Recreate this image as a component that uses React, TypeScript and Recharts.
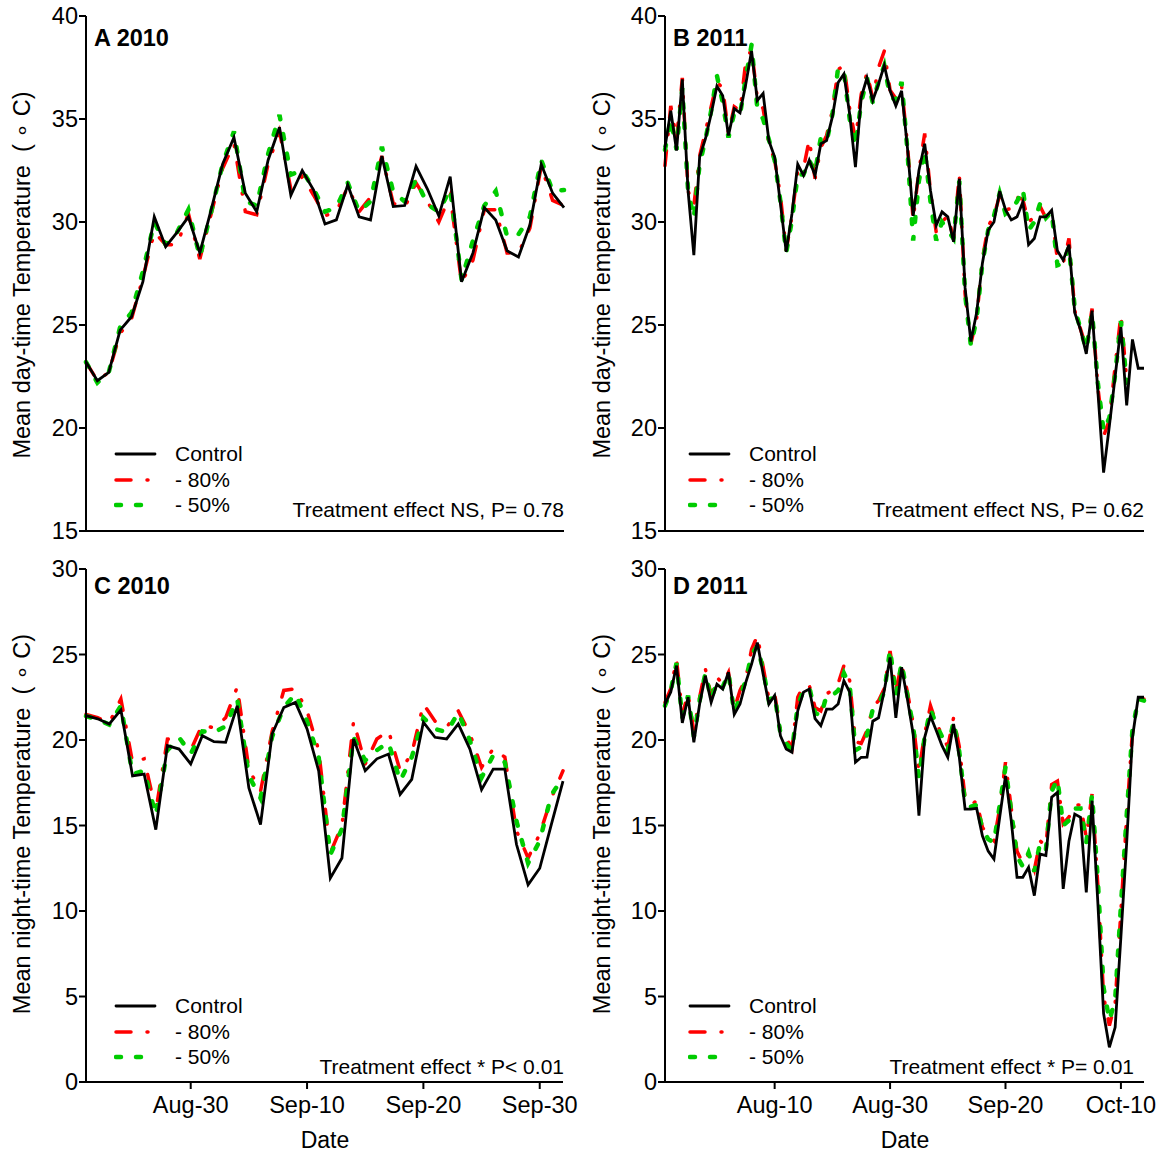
import React from "react";
import { LineChart, Line, XAxis, YAxis } from "recharts";

const FONT = '"Liberation Sans", Arial, Helvetica, sans-serif';

// A: mean day-time temperature 2010 (one value per observation)
const dayControl2010 = [23.2, 22.3, 22.7, 24.75, 25.4, 27.1, 30.25, 28.8, 29.5, 30.25, 28.5, 30.6, 32.8, 34.1, 31.4, 30.5, 33.0, 34.6, 31.3, 32.5, 31.55, 29.9, 30.1, 31.8, 30.25, 30.1, 33.2, 30.75, 30.8, 32.7, 31.6, 30.3, 32.2, 27.1, 28.5, 30.7, 30.1, 28.6, 28.3, 29.85, 32.8, 31.4, 30.7];
const day80_2010 = [23.2, 22.3, 22.7, 24.6, 25.3, 27.3, 29.5, 28.9, 28.9, 30.4, 28.2, 30.4, 32.6, 33.8, 30.5, 30.35, 32.8, 34.4, 31.6, 32.2, 31.3, 30.3, 30.5, 31.7, 30.5, 31.2, 33.2, 30.9, 30.7, 31.9, 31.0, 30.0, 31.3, 27.05, 28.15, 30.6, 30.6, 28.5, 28.5, 29.7, 32.7, 31.05, 30.8];
const day50_2010 = [23.2, 22.2, 22.7, 24.9, 25.6, 27.6, 30.0, 28.9, 29.5, 30.6, 28.3, 30.5, 32.8, 34.4, 31.0, 30.8, 33.3, 35.2, 32.3, 32.5, 31.6, 30.5, 30.7, 31.9, 30.5, 31.0, 33.65, 31.45, 31.0, 32.05, 30.85, 30.5, 31.6, 27.2, 29.1, 30.8, 31.5, 29.3, 29.4, 30.25, 33.0, 31.5, 31.55];

// B: mean day-time temperature 2011
const dayControl2011 = [33.63, 35.4, 33.47, 36.93, 31.5, 28.39, 33.15, 34.03, 35.24, 36.6, 36.13, 34.2, 35.5, 35.3, 36.7, 38.3, 35.9, 36.24, 33.95, 33.15, 30.9, 28.55, 30.4, 32.8, 32.26, 33.0, 32.26, 33.8, 33.95, 35.1, 36.77, 37.18, 35.24, 32.66, 36.05, 37.0, 35.9, 36.7, 37.6, 36.37, 35.64, 36.37, 33.63, 30.3, 32.5, 33.8, 31.53, 29.84, 30.49, 30.25, 29.04, 32.1, 26.8, 24.2, 25.6, 28.0, 29.6, 30.0, 31.5, 30.6, 30.1, 30.25, 30.97, 28.9, 29.2, 30.25, 30.25, 30.57, 28.6, 28.15, 28.9, 25.6, 24.77, 23.6, 25.7, 21.8, 17.83, 20.1, 22.5, 24.9, 21.1, 24.3, 22.9, 22.9];
const day80_2011 = [32.74, 35.64, 34.0, 37.0, 31.5, 30.8, 33.2, 34.4, 35.6, 36.8, 36.5, 34.3, 35.6, 35.4, 37.8, 38.4, 36.0, 35.5, 33.8, 33.0, 31.3, 28.6, 30.3, 32.5, 32.6, 34.0, 32.1, 33.6, 34.2, 35.4, 37.4, 37.6, 35.5, 34.0, 36.2, 37.25, 36.0, 37.5, 38.3, 36.4, 36.0, 36.6, 33.8, 30.1, 32.5, 34.3, 31.5, 29.5, 30.0, 30.3, 29.2, 32.3, 26.5, 24.1, 25.3, 28.2, 29.8, 30.3, 31.3, 30.6, 30.65, 31.2, 31.1, 30.0, 30.25, 30.75, 30.2, 30.5, 28.15, 28.0, 29.2, 25.7, 24.8, 23.9, 25.8, 22.0, 19.6, 20.4, 23.0, 25.5, 22.35];
const day50_2011 = [33.5, 35.0, 33.5, 36.5, 31.5, 30.2, 32.8, 34.0, 35.4, 37.1, 35.8, 34.1, 35.3, 35.2, 37.0, 38.6, 35.5, 35.0, 34.0, 33.0, 31.0, 28.5, 30.1, 32.3, 32.3, 33.0, 32.4, 34.1, 33.9, 35.2, 37.5, 37.3, 35.0, 33.7, 35.8, 37.0, 35.8, 36.8, 37.6, 36.1, 35.9, 36.8, 33.5, 29.1, 32.0, 33.5, 31.0, 29.1, 30.0, 29.6, 29.2, 32.0, 26.5, 24.0, 25.3, 28.0, 29.6, 30.3, 31.4, 30.4, 30.6, 31.0, 31.6, 29.6, 30.0, 30.9, 30.2, 30.5, 27.9, 28.0, 28.8, 25.8, 24.8, 23.8, 25.6, 22.2, 19.85, 20.5, 22.6, 25.2, 22.2];

// C: mean night-time temperature 2010
const nightControl2010 = [21.43, 21.24, 20.94, 21.76, 17.9, 18.0, 14.76, 19.67, 19.47, 18.6, 20.25, 19.9, 19.86, 22.0, 17.2, 15.06, 20.35, 21.9, 22.2, 20.65, 18.2, 11.92, 13.1, 20.06, 18.2, 18.9, 19.18, 16.82, 17.7, 21.04, 20.16, 20.06, 20.94, 19.47, 17.1, 18.3, 18.3, 13.9, 11.53, 12.5, 15.06, 17.6];
const night80_2010 = [21.5, 21.3, 21.0, 22.4, 18.7, 18.9, 15.85, 20.05, 20.1, 19.4, 20.9, 20.7, 21.3, 23.1, 18.3, 17.0, 20.5, 22.9, 23.0, 21.7, 19.4, 13.4, 15.0, 21.1, 18.6, 20.06, 20.55, 18.2, 19.2, 22.1, 21.1, 20.75, 21.7, 20.35, 18.4, 19.5, 19.0, 14.7, 13.1, 14.5, 16.6, 18.2];
const night50_2010 = [21.4, 21.2, 20.9, 22.0, 18.0, 18.2, 15.6, 19.4, 20.15, 19.2, 20.5, 20.45, 20.8, 22.4, 17.9, 16.6, 20.2, 21.9, 22.7, 21.1, 19.0, 13.3, 14.8, 20.15, 18.8, 19.4, 19.86, 17.6, 19.0, 21.3, 20.65, 20.45, 21.6, 19.96, 17.8, 19.1, 18.7, 15.25, 12.8, 14.1, 16.8, 17.8];

// D: mean night-time temperature 2011
const nightControl2011 = [22.1, 22.8, 24.35, 21.0, 22.5, 19.86, 22.1, 23.76, 22.2, 23.27, 22.98, 23.96, 21.5, 22.1, 23.37, 24.44, 25.7, 23.86, 22.1, 22.6, 20.25, 19.47, 19.28, 21.7, 22.8, 22.98, 21.25, 20.84, 21.8, 21.8, 22.1, 23.47, 22.8, 18.7, 18.99, 19.0, 21.1, 21.3, 22.9, 24.83, 21.3, 24.25, 22.4, 20.35, 15.58, 20.16, 21.4, 20.55, 19.67, 18.99, 20.94, 18.99, 15.96, 15.96, 16.0, 14.4, 13.5, 13.04, 15.5, 17.9, 15.28, 11.97, 11.97, 12.55, 10.9, 13.33, 13.24, 16.65, 16.94, 11.29, 14.1, 15.67, 15.48, 11.09, 16.45, 10.5, 4.0, 2.03, 3.2, 8.5, 14.0, 20.15, 22.5, 22.5];
const night80_2011 = [22.2, 23.0, 24.7, 21.5, 22.7, 20.5, 22.5, 24.15, 22.6, 23.66, 23.3, 23.96, 21.8, 22.9, 23.6, 25.3, 26.1, 24.3, 22.4, 22.7, 20.6, 20.15, 19.5, 22.5, 23.18, 23.2, 21.9, 21.7, 22.7, 22.9, 23.3, 24.35, 23.47, 19.9, 19.8, 20.55, 21.9, 22.3, 23.0, 25.2, 22.9, 24.45, 22.8, 21.0, 18.2, 20.35, 22.0, 21.0, 20.3, 19.6, 21.3, 19.6, 16.6, 16.2, 16.45, 14.9, 14.4, 14.1, 16.0, 18.7, 16.0, 13.5, 12.8, 13.3, 12.4, 14.1, 13.8, 17.4, 17.6, 15.1, 15.5, 16.2, 16.2, 14.3, 16.84, 11.5, 5.0, 3.3, 4.6, 10.0, 15.5, 20.5, 22.4, 22.4];
const night50_2011 = [22.0, 22.9, 24.5, 21.3, 22.6, 20.2, 22.3, 23.9, 22.4, 23.4, 23.1, 23.9, 21.6, 22.5, 23.5, 25.0, 25.5, 24.1, 22.3, 22.6, 20.4, 19.8, 19.4, 22.0, 22.9, 23.1, 21.6, 21.4, 22.6, 22.6, 22.9, 23.9, 23.2, 19.4, 19.6, 20.3, 21.8, 22.1, 22.8, 25.3, 22.6, 24.5, 22.6, 20.8, 17.8, 20.2, 21.8, 20.9, 20.2, 19.4, 21.1, 19.3, 16.3, 16.1, 16.2, 14.8, 14.2, 14.0, 16.2, 18.4, 15.8, 13.2, 12.6, 13.4, 12.3, 14.0, 13.6, 17.0, 17.7, 15.0, 15.3, 16.0, 16.0, 14.0, 16.8, 11.8, 5.5, 3.6, 4.8, 10.3, 15.6, 20.6, 22.4, 22.3];

// x ticks sit on observation numbers
const ticks2010 = [9, 19, 29, 39];
const tickLabels2010 = ["Aug-30", "Sep-10", "Sep-20", "Sep-30"];
const ticks2011 = [19, 39, 59, 79];
const tickLabels2011 = ["Aug-10", "Aug-30", "Sep-20", "Oct-10"];

const dayTicks = [15, 20, 25, 30, 35, 40];
const nightTicks = [0, 5, 10, 15, 20, 25, 30];

const RED = "#FF0000";
const GREEN = "#00CC00";
const RED_DASH = "15 16 1 16";
const GREEN_DASH = "5 15";

function toRows(control: number[], m80: number[], m50: number[]) {
  return control.map((v, i) => ({
    i,
    control: v,
    m80: i < m80.length ? m80[i] : null,
    m50: i < m50.length ? m50[i] : null,
  }));
}

type PanelProps = {
  left: number;
  top: number;
  height: number;
  margin: { top: number; right: number; left: number; bottom: number };
  xAxisHeight: number;
  rows: any[];
  yDomain: [number, number];
  yTicks: number[];
  xTicks: number[];
  xLabels: string[];
  showXLabels: boolean;
};

function Panel(p: PanelProps) {
  const tickStyle = { fill: "#000", fontSize: 23.5, fontFamily: FONT };
  return (
    <div style={{ position: "absolute", left: p.left, top: p.top }}>
      <LineChart width={580} height={p.height} data={p.rows} margin={p.margin}>
        <XAxis
          type="number"
          dataKey="i"
          domain={[0, p.rows.length - 1]}
          ticks={p.xTicks}
          interval={0}
          tickFormatter={(v: number) => p.xLabels[p.xTicks.indexOf(v)] ?? ""}
          tick={p.showXLabels ? tickStyle : false}
          tickLine={{ stroke: "#000", strokeWidth: 2 }}
          axisLine={{ stroke: "#000", strokeWidth: 2 }}
          tickSize={7}
          tickMargin={7}
          height={p.xAxisHeight}
        />
        <YAxis
          type="number"
          domain={p.yDomain}
          ticks={p.yTicks}
          interval={0}
          tick={tickStyle}
          tickLine={{ stroke: "#000", strokeWidth: 2 }}
          axisLine={{ stroke: "#000", strokeWidth: 2 }}
          tickSize={7}
          tickMargin={1}
          width={40}
        />
        <Line type="linear" dataKey="m80" stroke={RED} strokeWidth={3.5} strokeDasharray={RED_DASH} strokeLinecap="round" dot={false} isAnimationActive={false} />
        <Line type="linear" dataKey="m50" stroke={GREEN} strokeWidth={4.5} strokeDasharray={GREEN_DASH} strokeLinecap="round" dot={false} isAnimationActive={false} />
        <Line type="linear" dataKey="control" stroke="#000" strokeWidth={2.8} dot={false} isAnimationActive={false} />
      </LineChart>
    </div>
  );
}

function KeyBox({ x, y }: { x: number; y: number }) {
  const items = [
    { label: "Control", stroke: "#000", w: 2.8, dash: undefined as string | undefined },
    { label: "- 80%", stroke: RED, w: 3.5, dash: RED_DASH },
    { label: "- 50%", stroke: GREEN, w: 4.5, dash: GREEN_DASH },
  ];
  return (
    <div style={{ position: "absolute", left: x, top: y - 13 }}>
      {items.map((it, k) => (
        <div key={k} style={{ position: "absolute", top: k * 25.5, left: 0, height: 26, width: 160 }}>
          <svg width={45} height={26} style={{ position: "absolute", left: 0, top: 0 }}>
            <line x1={2} y1={13} x2={41} y2={13} stroke={it.stroke} strokeWidth={it.w} strokeDasharray={it.dash} strokeLinecap="round" />
          </svg>
          <span style={{ position: "absolute", left: 61, top: 0, fontSize: 21, lineHeight: "26px", fontFamily: FONT, whiteSpace: "pre" }}>
            {it.label}
          </span>
        </div>
      ))}
    </div>
  );
}

function Note({ right, y, text }: { right: number; y: number; text: string }) {
  return (
    <div style={{ position: "absolute", right: 1160 - right, top: y - 13, fontSize: 21, lineHeight: "26px", fontFamily: FONT, whiteSpace: "pre" }}>
      {text}
    </div>
  );
}

function Tag({ x, y, text }: { x: number; y: number; text: string }) {
  return (
    <div style={{ position: "absolute", left: x, top: y - 14, fontSize: 23.5, lineHeight: "28px", fontWeight: "bold", fontFamily: FONT }}>
      {text}
    </div>
  );
}

function YTitle({ cx, cy, text }: { cx: number; cy: number; text: string }) {
  return (
    <div
      style={{
        position: "absolute",
        left: cx - 300,
        top: cy - 15,
        width: 600,
        height: 30,
        textAlign: "center",
        fontSize: 23.5,
        lineHeight: "30px",
        fontFamily: FONT,
        whiteSpace: "pre",
        transform: "rotate(-90deg)",
      }}
    >
      {text}
    </div>
  );
}

function XTitle({ cx, cy }: { cx: number; cy: number }) {
  return (
    <div style={{ position: "absolute", left: cx - 50, top: cy - 14, width: 100, textAlign: "center", fontSize: 23, lineHeight: "28px", fontFamily: FONT }}>
      Date
    </div>
  );
}

export default function App() {
  const rowsA = toRows(dayControl2010, day80_2010, day50_2010);
  const rowsB = toRows(dayControl2011, day80_2011, day50_2011);
  const rowsC = toRows(nightControl2010, night80_2010, night50_2010);
  const rowsD = toRows(nightControl2011, night80_2011, night50_2011);

  return (
    <div style={{ position: "absolute", left: 0, top: 0, width: 1160, height: 1152, background: "#fff", overflow: "hidden", fontFamily: FONT }}>
      <Panel left={0} top={0} height={560} margin={{ top: 16, right: 16, left: 46, bottom: 0 }} xAxisHeight={29}
        rows={rowsA} yDomain={[15, 40]} yTicks={dayTicks} xTicks={ticks2010} xLabels={tickLabels2010} showXLabels={false} />
      <Panel left={580} top={0} height={560} margin={{ top: 16, right: 16, left: 45, bottom: 0 }} xAxisHeight={29}
        rows={rowsB} yDomain={[15, 40]} yTicks={dayTicks} xTicks={ticks2011} xLabels={tickLabels2011} showXLabels={false} />
      <Panel left={0} top={540} height={612} margin={{ top: 29, right: 17, left: 46, bottom: 30 }} xAxisHeight={40}
        rows={rowsC} yDomain={[0, 30]} yTicks={nightTicks} xTicks={ticks2010} xLabels={tickLabels2010} showXLabels={true} />
      <Panel left={580} top={540} height={612} margin={{ top: 29, right: 16, left: 45, bottom: 30 }} xAxisHeight={40}
        rows={rowsD} yDomain={[0, 30]} yTicks={nightTicks} xTicks={ticks2011} xLabels={tickLabels2011} showXLabels={true} />

      <Tag x={94} y={38} text="A 2010" />
      <Tag x={673} y={38} text="B 2011" />
      <Tag x={94} y={586} text="C 2010" />
      <Tag x={673} y={586} text="D 2011" />

      <YTitle cx={22} cy={275} text="Mean day-time Temperature  ( ∘ C)" />
      <YTitle cx={602} cy={275} text="Mean day-time Temperature  ( ∘ C)" />
      <YTitle cx={22} cy={824} text="Mean night-time Temperature  ( ∘ C)" />
      <YTitle cx={602} cy={824} text="Mean night-time Temperature  ( ∘ C)" />

      <KeyBox x={114} y={454} />
      <KeyBox x={688} y={454} />
      <KeyBox x={114} y={1006} />
      <KeyBox x={688} y={1006} />

      <Note right={564} y={510} text="Treatment effect NS, P= 0.78" />
      <Note right={1144} y={510} text="Treatment effect NS, P= 0.62" />
      <Note right={564} y={1067} text="Treatment effect * P< 0.01" />
      <Note right={1134} y={1067} text="Treatment effect * P= 0.01" />

      <XTitle cx={325} cy={1140} />
      <XTitle cx={905} cy={1140} />
    </div>
  );
}
